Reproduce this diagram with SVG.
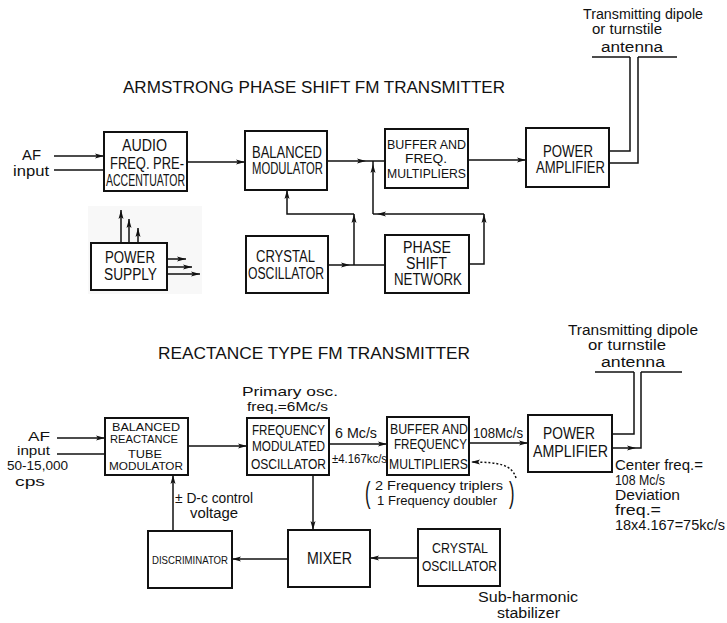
<svg xmlns="http://www.w3.org/2000/svg" width="727" height="623" viewBox="0 0 727 623">
<defs>
<marker id="ah" markerWidth="10" markerHeight="6" refX="9" refY="3" orient="auto" markerUnits="userSpaceOnUse">
<path d="M0,0.5 L9,3 L0,5.5 L2,3 Z" fill="#111"/>
</marker>
</defs>
<style>
.box{fill:#fff;stroke:#111;stroke-width:2}
.ln{fill:none;stroke:#111;stroke-width:1.5}
.dot{fill:none;stroke:#111;stroke-width:1.5;stroke-dasharray:2 2}
.bl{font-family:"Liberation Sans",Arial,sans-serif;font-size:16px;fill:#111}
.bs{font-family:"Liberation Sans",Arial,sans-serif;font-size:14px;fill:#111}
.bm{font-family:"Liberation Sans",Arial,sans-serif;font-size:13px;fill:#111}
.bt{font-family:"Liberation Sans",Arial,sans-serif;font-size:11px;fill:#111}
.ti{font-family:"Liberation Sans",Arial,sans-serif;font-size:16px;fill:#111}
.hw{font-family:"Liberation Sans",Arial,sans-serif;font-size:14px;fill:#111}
.hm{font-family:"Liberation Sans",Arial,sans-serif;font-size:13px;fill:#111}
.hs{font-family:"Liberation Sans",Arial,sans-serif;font-size:12px;fill:#111}
.br{font-family:"Liberation Sans",Arial,sans-serif;font-size:30px;fill:#111}
</style>
<rect width="727" height="623" fill="#fff"/>

<!-- Titles -->
<text class="ti" x="123" y="93" textLength="382" lengthAdjust="spacingAndGlyphs">ARMSTRONG PHASE SHIFT FM TRANSMITTER</text>
<text class="ti" x="158" y="359" textLength="312" lengthAdjust="spacingAndGlyphs">REACTANCE TYPE FM TRANSMITTER</text>

<!-- Top labels -->
<g id="top-antenna-label">
<text class="hw" x="583" y="19" textLength="120" lengthAdjust="spacingAndGlyphs">Transmitting dipole</text>
<text class="hw" x="592" y="34" textLength="70" lengthAdjust="spacingAndGlyphs">or turnstile</text>
<text class="hw" x="601" y="52" textLength="62" lengthAdjust="spacingAndGlyphs">antenna</text>
</g>
<g id="top-af-input">
<text class="hw" x="22" y="160" textLength="19" lengthAdjust="spacingAndGlyphs">AF</text>
<text class="hw" x="13" y="176" textLength="36" lengthAdjust="spacingAndGlyphs">input</text>
</g>

<!-- Top nodes -->
<g id="audio-pre">
<rect class="box" x="104" y="132" width="83" height="59"/>
<text class="bl" x="122" y="151" textLength="45" lengthAdjust="spacingAndGlyphs">AUDIO</text>
<text class="bl" x="110" y="169" textLength="74" lengthAdjust="spacingAndGlyphs">FREQ. PRE-</text>
<text class="bl" x="106" y="186" textLength="79" lengthAdjust="spacingAndGlyphs">ACCENTUATOR</text>
</g>
<g id="balanced-mod">
<rect class="box" x="245" y="131" width="82" height="59"/>
<text class="bl" x="252" y="158" textLength="70" lengthAdjust="spacingAndGlyphs">BALANCED</text>
<text class="bl" x="252" y="174" textLength="71" lengthAdjust="spacingAndGlyphs">MODULATOR</text>
</g>
<g id="buffer-top">
<rect class="box" x="385" y="129" width="83" height="59"/>
<text class="bm" x="387" y="149" textLength="79" lengthAdjust="spacingAndGlyphs">BUFFER AND</text>
<text class="bm" x="405" y="163" textLength="42" lengthAdjust="spacingAndGlyphs">FREQ.</text>
<text class="bm" x="387" y="178" textLength="79" lengthAdjust="spacingAndGlyphs">MULTIPLIERS</text>
</g>
<g id="pa-top">
<rect class="box" x="526" y="128" width="83" height="59"/>
<text class="bl" x="543" y="157" textLength="50" lengthAdjust="spacingAndGlyphs">POWER</text>
<text class="bl" x="536" y="173" textLength="69" lengthAdjust="spacingAndGlyphs">AMPLIFIER</text>
</g>
<g id="crystal-top">
<rect class="box" x="246" y="236" width="82" height="57"/>
<text class="bl" x="256" y="262" textLength="59" lengthAdjust="spacingAndGlyphs">CRYSTAL</text>
<text class="bl" x="248" y="279" textLength="76" lengthAdjust="spacingAndGlyphs">OSCILLATOR</text>
</g>
<g id="phase-shift">
<rect class="box" x="385" y="235" width="84" height="58"/>
<text class="bl" x="403" y="253" textLength="48" lengthAdjust="spacingAndGlyphs">PHASE</text>
<text class="bl" x="406" y="269" textLength="41" lengthAdjust="spacingAndGlyphs">SHIFT</text>
<text class="bl" x="394" y="285" textLength="68" lengthAdjust="spacingAndGlyphs">NETWORK</text>
</g>
<g id="power-supply">
<rect x="88" y="206" width="114" height="88" fill="#f8f8f8"/>
<rect class="box" x="91" y="243" width="76" height="47"/>
<text class="bl" x="105" y="263" textLength="50" lengthAdjust="spacingAndGlyphs">POWER</text>
<text class="bl" x="104" y="280" textLength="53" lengthAdjust="spacingAndGlyphs">SUPPLY</text>
<line class="ln" x1="121" y1="243" x2="121" y2="210" marker-end="url(#ah)"/>
<line class="ln" x1="129" y1="243" x2="129" y2="219" marker-end="url(#ah)"/>
<line class="ln" x1="138" y1="243" x2="138" y2="228" marker-end="url(#ah)"/>
<line class="ln" x1="167" y1="259" x2="186" y2="259" marker-end="url(#ah)"/>
<line class="ln" x1="167" y1="267" x2="192" y2="267" marker-end="url(#ah)"/>
<line class="ln" x1="167" y1="274" x2="200" y2="274" marker-end="url(#ah)"/>
</g>

<!-- Bottom labels -->
<g id="bottom-antenna-label">
<text class="hw" x="568" y="335" textLength="130" lengthAdjust="spacingAndGlyphs">Transmitting dipole</text>
<text class="hw" x="588" y="350" textLength="78" lengthAdjust="spacingAndGlyphs">or turnstile</text>
<text class="hw" x="601" y="367" textLength="64" lengthAdjust="spacingAndGlyphs">antenna</text>
</g>
<g id="bottom-af-input">
<text class="hs" x="28" y="441" textLength="22" lengthAdjust="spacingAndGlyphs">AF</text>
<text class="hs" x="17" y="455" textLength="33" lengthAdjust="spacingAndGlyphs">input</text>
<text class="hs" x="7" y="470" textLength="61" lengthAdjust="spacingAndGlyphs">50-15,000</text>
<text class="hs" x="15" y="486" textLength="30" lengthAdjust="spacingAndGlyphs">cps</text>
</g>
<g id="primary-osc-label">
<text class="hm" x="242" y="396" textLength="96" lengthAdjust="spacingAndGlyphs">Primary osc.</text>
<text class="hm" x="247" y="411" textLength="81" lengthAdjust="spacingAndGlyphs">freq.=6Mc/s</text>
</g>
<g id="freq-labels">
<text class="hw" x="335" y="438" textLength="42" lengthAdjust="spacingAndGlyphs">6 Mc/s</text>
<text class="hs" x="332" y="463" textLength="55" lengthAdjust="spacingAndGlyphs">±4.167kc/s</text>
<text class="hw" x="473" y="438" textLength="50" lengthAdjust="spacingAndGlyphs">108Mc/s</text>
</g>
<g id="multiplier-note">
<text class="br" x="0" y="0" transform="translate(365 503) scale(0.55 1)">(</text>
<text class="hm" x="375" y="490" textLength="128" lengthAdjust="spacingAndGlyphs">2 Frequency triplers</text>
<text class="hm" x="377" y="505" textLength="120" lengthAdjust="spacingAndGlyphs">1 Frequency doubler</text>
<text class="br" x="0" y="0" transform="translate(509 503) scale(0.55 1)">)</text>
</g>
<g id="dc-control-label">
<text class="hw" x="175" y="503" textLength="78" lengthAdjust="spacingAndGlyphs">± D-c control</text>
<text class="hw" x="190" y="518" textLength="48" lengthAdjust="spacingAndGlyphs">voltage</text>
</g>
<g id="center-freq-label">
<text class="hw" x="615" y="470" textLength="88" lengthAdjust="spacingAndGlyphs">Center freq.=</text>
<text class="hw" x="615" y="485" textLength="50" lengthAdjust="spacingAndGlyphs">108 Mc/s</text>
<text class="hw" x="615" y="500" textLength="65" lengthAdjust="spacingAndGlyphs">Deviation</text>
<text class="hw" x="615" y="515" textLength="46" lengthAdjust="spacingAndGlyphs">freq.=</text>
<text class="hw" x="615" y="530" textLength="110" lengthAdjust="spacingAndGlyphs">18x4.167=75kc/s</text>
</g>
<g id="sub-harmonic-label">
<text class="hw" x="478" y="602" textLength="100" lengthAdjust="spacingAndGlyphs">Sub-harmonic</text>
<text class="hw" x="497" y="618" textLength="63" lengthAdjust="spacingAndGlyphs">stabilizer</text>
</g>

<!-- Bottom nodes -->
<g id="reactance-mod">
<rect class="box" x="105" y="418" width="83" height="57"/>
<text class="bt" x="112" y="431" textLength="68" lengthAdjust="spacingAndGlyphs">BALANCED</text>
<text class="bt" x="110" y="443" textLength="68" lengthAdjust="spacingAndGlyphs">REACTANCE</text>
<text class="bt" x="128" y="458" textLength="34" lengthAdjust="spacingAndGlyphs">TUBE</text>
<text class="bt" x="109" y="470" textLength="74" lengthAdjust="spacingAndGlyphs">MODULATOR</text>
</g>
<g id="fm-osc">
<rect class="box" x="247" y="418" width="82" height="57"/>
<text class="bs" x="252" y="435" textLength="73" lengthAdjust="spacingAndGlyphs">FREQUENCY</text>
<text class="bs" x="252" y="451" textLength="73" lengthAdjust="spacingAndGlyphs">MODULATED</text>
<text class="bs" x="251" y="469" textLength="75" lengthAdjust="spacingAndGlyphs">OSCILLATOR</text>
</g>
<g id="buffer-bottom">
<rect class="box" x="387" y="417" width="82" height="58"/>
<text class="bs" x="390" y="434" textLength="78" lengthAdjust="spacingAndGlyphs">BUFFER AND</text>
<text class="bs" x="394" y="449" textLength="73" lengthAdjust="spacingAndGlyphs">FREQUENCY</text>
<text class="bs" x="389" y="469" textLength="79" lengthAdjust="spacingAndGlyphs">MULTIPLIERS</text>
</g>
<g id="pa-bottom">
<rect class="box" x="528" y="415" width="84" height="57"/>
<text class="bl" x="543" y="439" textLength="52" lengthAdjust="spacingAndGlyphs">POWER</text>
<text class="bl" x="533" y="457" textLength="75" lengthAdjust="spacingAndGlyphs">AMPLIFIER</text>
</g>
<g id="discriminator">
<rect class="box" x="148" y="531" width="84" height="57"/>
<text class="bt" x="152" y="564" textLength="76" lengthAdjust="spacingAndGlyphs">DISCRIMINATOR</text>
</g>
<g id="mixer">
<rect class="box" x="288" y="530" width="82" height="57"/>
<text class="bl" x="307" y="564" textLength="45" lengthAdjust="spacingAndGlyphs">MIXER</text>
</g>
<g id="crystal-bottom">
<rect class="box" x="418" y="529" width="82" height="57"/>
<text class="bs" x="432" y="553" textLength="56" lengthAdjust="spacingAndGlyphs">CRYSTAL</text>
<text class="bs" x="422" y="571" textLength="75" lengthAdjust="spacingAndGlyphs">OSCILLATOR</text>
</g>

<!-- Connectors -->
<g id="connectors">
<!-- top -->
<line class="ln" x1="54" y1="156" x2="104" y2="156" marker-end="url(#ah)"/>
<line class="ln" x1="54" y1="170" x2="104" y2="170"/>
<line class="ln" x1="187" y1="162" x2="245" y2="162" marker-end="url(#ah)"/>
<line class="ln" x1="327" y1="161" x2="366" y2="161" marker-end="url(#ah)"/>
<line class="ln" x1="366" y1="161" x2="385" y2="161"/>
<line class="ln" x1="468" y1="160" x2="526" y2="160" marker-end="url(#ah)"/>
<polyline class="ln" points="609,151 630,151 630,57"/>
<polyline class="ln" points="609,163 638,163 638,57"/>
<line class="ln" x1="592" y1="57" x2="630" y2="57"/>
<line class="ln" x1="638" y1="57" x2="677" y2="57"/>
<line class="ln" x1="328" y1="265" x2="350" y2="265" marker-end="url(#ah)"/>
<line class="ln" x1="350" y1="265" x2="385" y2="265"/>
<line class="ln" x1="354" y1="265" x2="354" y2="214" marker-end="url(#ah)"/>
<polyline class="ln" points="354,214 287,214 287,190" marker-end="url(#ah)"/>
<polyline class="ln" points="469,264 484,264 484,214" marker-end="url(#ah)"/>
<line class="ln" x1="484" y1="214" x2="377" y2="214" marker-end="url(#ah)"/>
<line class="ln" x1="377" y1="214" x2="373" y2="214"/>
<line class="ln" x1="373" y1="214" x2="373" y2="164" marker-end="url(#ah)"/>
<line class="ln" x1="373" y1="164" x2="373" y2="161"/>
<!-- bottom -->
<line class="ln" x1="57" y1="438" x2="105" y2="438" marker-end="url(#ah)"/>
<line class="ln" x1="57" y1="454" x2="105" y2="454"/>
<line class="ln" x1="188" y1="446" x2="247" y2="446" marker-end="url(#ah)"/>
<line class="ln" x1="329" y1="444" x2="387" y2="444" marker-end="url(#ah)"/>
<line class="ln" x1="469" y1="443" x2="528" y2="443" marker-end="url(#ah)"/>
<polyline class="ln" points="612,434 634,434 634,372"/>
<line class="ln" x1="612" y1="448" x2="636" y2="448" marker-end="url(#ah)"/>
<polyline class="ln" points="636,448 641,448 641,372"/>
<line class="ln" x1="595" y1="372" x2="634" y2="372"/>
<line class="ln" x1="641" y1="372" x2="682" y2="372"/>
<path class="dot" d="M516,478 C512,465 500,462 471,462" marker-end="url(#ah)"/>
<line class="ln" x1="313" y1="475" x2="313" y2="530" marker-end="url(#ah)"/>
<line class="ln" x1="288" y1="559" x2="232" y2="559" marker-end="url(#ah)"/>
<line class="ln" x1="418" y1="558" x2="370" y2="558" marker-end="url(#ah)"/>
<line class="ln" x1="173" y1="531" x2="173" y2="475" marker-end="url(#ah)"/>
</g>
</svg>
